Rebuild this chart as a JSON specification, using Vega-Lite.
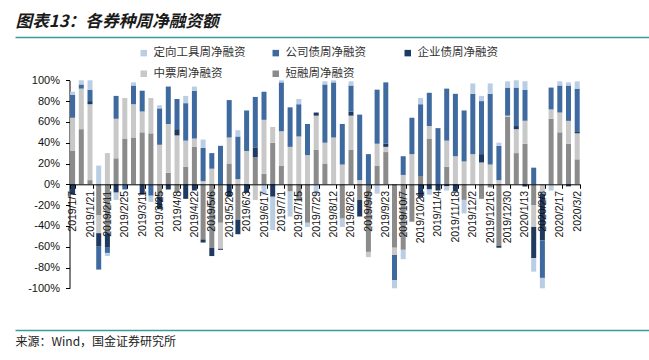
{
  "$schema": "https://vega.github.io/schema/vega-lite/v6.json",
  "width": 634,
  "height": 300,
  "autosize": {"type": "none"},
  "padding": {"left": 15, "top": 30, "right": 0, "bottom": 30},
  "background": "white",
  "config": {"view": {"stroke": null}, "axis": {"grid": false}},
  "layer": [
    {
      "data": {"values": [
        {"d": "2019/1/7", "dr": 32, "zp": 32, "qy": -10, "gs": 22, "dx": 3},
        {"d": "2019/1/14", "dr": 53, "zp": 39, "qy": 0, "gs": 4, "dx": 4},
        {"d": "2019/1/21", "dr": 4, "zp": 73, "qy": 3, "gs": 11, "dx": 9},
        {"d": "2019/1/28", "dr": -30, "zp": -17, "qy": -13, "gs": -22, "dx": 18},
        {"d": "2019/2/11", "dr": -47, "zp": 30, "qy": -14, "gs": -5, "dx": -3},
        {"d": "2019/2/18", "dr": 25, "zp": 38, "qy": -8, "gs": 22, "dx": -7},
        {"d": "2019/2/25", "dr": 44, "zp": 39, "qy": 0, "gs": -5, "dx": 0},
        {"d": "2019/3/4", "dr": 45, "zp": 32, "qy": 0, "gs": 18, "dx": 3},
        {"d": "2019/3/11", "dr": 50, "zp": 20, "qy": -10, "gs": 20, "dx": 0},
        {"d": "2019/3/18", "dr": 49, "zp": 34, "qy": 0, "gs": -11, "dx": -6},
        {"d": "2019/3/25", "dr": -12, "zp": 38, "qy": -12, "gs": 35, "dx": 3},
        {"d": "2019/4/1", "dr": 11, "zp": 47, "qy": -5, "gs": 36, "dx": 0},
        {"d": "2019/4/8", "dr": -8, "zp": 47, "qy": 6, "gs": 29, "dx": 0},
        {"d": "2019/4/15", "dr": 17, "zp": 25, "qy": -14, "gs": 36, "dx": 7},
        {"d": "2019/4/22", "dr": 36, "zp": 8, "qy": -6, "gs": 46, "dx": 4},
        {"d": "2019/4/29", "dr": -53, "zp": 3, "qy": -3, "gs": 32, "dx": 8},
        {"d": "2019/5/6", "dr": -61, "zp": 15, "qy": -8, "gs": 15, "dx": 0},
        {"d": "2019/5/13", "dr": -37, "zp": -25, "qy": -1, "gs": 37, "dx": 0},
        {"d": "2019/5/20", "dr": 20, "zp": 25, "qy": -12, "gs": 36, "dx": 0},
        {"d": "2019/5/27", "dr": -34, "zp": 5, "qy": -14, "gs": 41, "dx": 6},
        {"d": "2019/6/3", "dr": 0, "zp": 32, "qy": -8, "gs": 39, "dx": 0},
        {"d": "2019/6/10", "dr": 26, "zp": -15, "qy": 9, "gs": 49, "dx": 0},
        {"d": "2019/6/17", "dr": 10, "zp": 52, "qy": 0, "gs": 27, "dx": -10},
        {"d": "2019/6/24", "dr": 40, "zp": 15, "qy": -12, "gs": 0, "dx": -32},
        {"d": "2019/7/1", "dr": 18, "zp": 33, "qy": 0, "gs": 47, "dx": 2},
        {"d": "2019/7/8", "dr": -7, "zp": 36, "qy": 0, "gs": 38, "dx": -24},
        {"d": "2019/7/15", "dr": -16, "zp": 46, "qy": 0, "gs": 31, "dx": 5},
        {"d": "2019/7/22", "dr": -37, "zp": 28, "qy": 0, "gs": 30, "dx": -4},
        {"d": "2019/7/29", "dr": 33, "zp": 33, "qy": 3, "gs": 0, "dx": -10},
        {"d": "2019/8/5", "dr": 20, "zp": 20, "qy": 0, "gs": 56, "dx": 3},
        {"d": "2019/8/12", "dr": 0, "zp": 45, "qy": 0, "gs": 53, "dx": 2},
        {"d": "2019/8/19", "dr": -33, "zp": 19, "qy": 0, "gs": 39, "dx": -8},
        {"d": "2019/8/26", "dr": 33, "zp": 33, "qy": 4, "gs": 25, "dx": 4},
        {"d": "2019/9/2", "dr": -15, "zp": 4, "qy": -16, "gs": 63, "dx": 0},
        {"d": "2019/9/9", "dr": -65, "zp": -5, "qy": 0, "gs": 29, "dx": 0},
        {"d": "2019/9/16", "dr": 18, "zp": 21, "qy": 0, "gs": 52, "dx": -9},
        {"d": "2019/9/23", "dr": 31, "zp": 5, "qy": 3, "gs": 59, "dx": 0},
        {"d": "2019/9/30", "dr": -61, "zp": -7, "qy": 0, "gs": -24, "dx": -8},
        {"d": "2019/10/7", "dr": -63, "zp": 9, "qy": 0, "gs": 18, "dx": -9},
        {"d": "2019/10/14", "dr": -36, "zp": 29, "qy": 0, "gs": 35, "dx": 0},
        {"d": "2019/10/21", "dr": 8, "zp": 0, "qy": -13, "gs": 69, "dx": 6},
        {"d": "2019/10/28", "dr": 44, "zp": 12, "qy": -5, "gs": 32, "dx": -5},
        {"d": "2019/11/4", "dr": 0, "zp": 0, "qy": -6, "gs": 54, "dx": 0},
        {"d": "2019/11/11", "dr": 17, "zp": 25, "qy": -2, "gs": 50, "dx": -4},
        {"d": "2019/11/18", "dr": 0, "zp": 27, "qy": -7, "gs": 60, "dx": 0},
        {"d": "2019/11/25", "dr": -15, "zp": 22, "qy": 0, "gs": 49, "dx": -13},
        {"d": "2019/12/2", "dr": 0, "zp": 29, "qy": 0, "gs": 58, "dx": 10},
        {"d": "2019/12/9", "dr": -14, "zp": 21, "qy": 8, "gs": 51, "dx": 5},
        {"d": "2019/12/16", "dr": -3, "zp": 19, "qy": 0, "gs": 68, "dx": 10},
        {"d": "2019/12/23", "dr": -59, "zp": 4, "qy": -2, "gs": 33, "dx": 3},
        {"d": "2019/12/30", "dr": 65, "zp": 1, "qy": 0, "gs": 27, "dx": 6},
        {"d": "2020/1/6", "dr": 30, "zp": 23, "qy": 3, "gs": 37, "dx": 7},
        {"d": "2020/1/13", "dr": 39, "zp": 22, "qy": -2, "gs": 30, "dx": 8},
        {"d": "2020/1/20", "dr": -20, "zp": -21, "qy": -30, "gs": 16, "dx": -13},
        {"d": "2020/2/3", "dr": 0, "zp": -9, "qy": -45, "gs": -36, "dx": -10},
        {"d": "2020/2/10", "dr": 63, "zp": 9, "qy": 0, "gs": 21, "dx": -6},
        {"d": "2020/2/17", "dr": 50, "zp": 19, "qy": 0, "gs": 26, "dx": 4},
        {"d": "2020/2/24", "dr": 39, "zp": 22, "qy": -2, "gs": 34, "dx": 3},
        {"d": "2020/3/2", "dr": 24, "zp": 25, "qy": 2, "gs": 41, "dx": 7}
      ]},
      "transform": [
        {"fold": ["dr", "zp", "qy", "gs", "dx"], "as": ["s", "v"]},
        {"calculate": "indexof(['dr','zp','qy','gs','dx'], datum.s)", "as": "k"}
      ],
      "mark": {"type": "bar"},
      "encoding": {
        "x": {
          "field": "d", "type": "ordinal", "sort": null,
          "scale": {"type": "band", "range": [54.5, 565.3], "paddingInner": 0.425, "paddingOuter": 0.069},
          "axis": {
            "orient": "bottom", "offset": -145.7, "title": null,
            "values": ["2019/1/7","2019/1/21","2019/2/11","2019/2/25","2019/3/11","2019/3/25","2019/4/8","2019/4/22","2019/5/6","2019/5/20","2019/6/3","2019/6/17","2019/7/1","2019/7/15","2019/7/29","2019/8/12","2019/8/26","2019/9/9","2019/9/23","2019/10/7","2019/10/21","2019/11/4","2019/11/18","2019/12/2","2019/12/16","2019/12/30","2020/1/13","2020/2/3","2020/2/17","2020/3/2"],
            "labelAngle": 270, "labelFontSize": 10.5, "labelFont": "Liberation Sans", "labelColor": "#111",
            "labelPadding": 2, "labelOverlap": false, "domainColor": "#000", "tickColor": "#000",
            "tickSize": 4, "tickBand": "extent", "zindex": 1
          }
        },
        "y": {
          "field": "v", "type": "quantitative", "stack": "zero",
          "scale": {"domain": [-100, 100], "range": [258.3, 50.3], "nice": false},
          "axis": {
            "orient": "left", "title": null, "values": [-100, -80, -60, -40, -20, 0, 20, 40, 60, 80, 100],
            "labelExpr": "datum.value + '%'", "offset": -54.5, "labelFontSize": 11, "labelOverlap": false,
            "labelFont": "Liberation Sans", "labelColor": "#111", "domainColor": "#000",
            "tickColor": "#000", "tickSize": 4, "labelPadding": 6
          }
        },
        "color": {
          "field": "s", "type": "nominal",
          "scale": {"domain": ["dx", "gs", "qy", "zp", "dr"], "range": ["#B9CDE5", "#3F6A9F", "#1F3A60", "#C8C8C8", "#8B8B8B"]},
          "legend": {
            "orient": "none", "legendX": 123, "legendY": 17, "direction": "horizontal", "columns": 3,
            "title": null, "symbolType": "square", "symbolSize": 42, "symbolStrokeWidth": 0,
            "labelFont": "Noto Sans CJK SC", "labelFontSize": 11.5, "labelColor": "#333",
            "labelOffset": 4, "columnPadding": 24, "rowPadding": 8, "gridAlign": "all", "padding": 0,
            "labelExpr": "datum.label == 'dx' ? '定向工具周净融资' : datum.label == 'gs' ? '公司债周净融资' : datum.label == 'qy' ? '企业债周净融资' : datum.label == 'zp' ? '中票周净融资' : '短融周净融资'"
          }
        },
        "order": {"field": "k", "type": "quantitative"}
      }
    },
    {
      "data": {"values": [{}]},
      "mark": {"type": "point", "opacity": 0},
      "encoding": {
        "x": {"datum": 0.5, "type": "quantitative", "scale": {"domain": [0, 1], "nice": false},
          "axis": {"orient": "bottom", "offset": -300, "domain": false, "labels": false, "ticks": false, "grid": false,
            "title": "图表13：各券种周净融资额", "titleAnchor": "start", "titleAlign": "left", "titleBaseline": "bottom",
            "titleX": 0, "titleY": 0,
            "titleFont": "Noto Sans CJK SC", "titleFontSize": 16.7, "titleFontWeight": "bold", "titleFontStyle": "italic",
            "titleColor": "#1a1a1a"}}
      }
    },
    {
      "data": {"values": [{}]},
      "mark": {"type": "point", "opacity": 0},
      "encoding": {
        "x": {"datum": 0.5, "type": "quantitative", "scale": {"domain": [0, 1]},
          "axis": {"orient": "bottom", "domainColor": "#3A9A9C", "domainWidth": 1.5, "labels": false, "ticks": false, "grid": false,
            "title": "来源：Wind，国金证券研究所", "titleAnchor": "start", "titleAlign": "left", "titleFont": "Noto Sans CJK SC",
            "titleFontSize": 12, "titleFontWeight": "normal", "titleColor": "#222", "titlePadding": 6}},
        "y": {"datum": 0.5, "type": "quantitative", "scale": {"domain": [0, 1], "nice": false},
          "axis": {"orient": "left", "offset": 0, "values": [0.9767], "grid": true, "gridColor": "#3A9A9C", "gridWidth": 1.5, "gridOpacity": 1,
            "domain": false, "labels": false, "ticks": false, "title": null}}
      }
    }
  ],
  "resolve": {"scale": {"x": "independent", "y": "independent"}, "axis": {"x": "independent", "y": "independent"}}
}
